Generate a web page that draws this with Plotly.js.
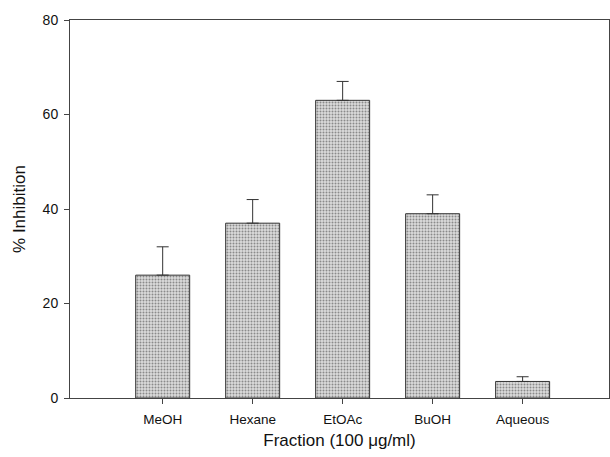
<!DOCTYPE html>
<html>
<head>
<meta charset="utf-8">
<script src="https://cdn.plot.ly/plotly-3.0.1.min.js"></script>
<style>html,body{margin:0;padding:0;background:#fff;}#chart{width:610px;height:457px;}</style>
</head>
<body>
<div id="chart"></div>
<script>
const categories = ["MeOH", "Hexane", "EtOAc", "BuOH", "Aqueous"];
const inhibition = [26, 37, 63, 39, 3.5];
const errorUp = [6, 5, 4, 4, 1];
const yTicks = [0, 20, 40, 60, 80];

const trace = {
  type: 'bar',
  x: categories.map((c, i) => i),
  y: inhibition,
  width: 0.6,
  marker: {
    color: '#d4d4d4',
    line: {color: '#333', width: 1},
    pattern: {shape: '.', fgcolor: '#8a8a8a', bgcolor: '#dcdcdc', size: 3, solidity: 0.35}
  },
  error_y: {type: 'data', array: errorUp, arrayminus: errorUp.map(() => 0), symmetric: false, color: '#333', thickness: 1, width: 6},
  hoverinfo: 'none'
};

const layout = {
  width: 610, height: 457,
  margin: {l: 70, r: 1, t: 20, b: 59},
  paper_bgcolor: '#fff', plot_bgcolor: '#fff',
  showlegend: false,
  font: {family: 'Liberation Sans, Arial, sans-serif', color: '#111'},
  xaxis: {
    range: [-1.03, 4.96],
    tickmode: 'array', tickvals: categories.map((c, i) => i), ticktext: categories,
    ticks: 'outside', ticklen: 5, tickcolor: '#444',
    showline: true, linecolor: '#444', linewidth: 1, mirror: true,
    showgrid: false, zeroline: false,
    tickfont: {size: 13.5},
    ticklabelstandoff: 4,
    title: {text: 'Fraction (100 μg/ml)', font: {size: 17}, standoff: 7}
  },
  yaxis: {
    range: [0, 80],
    tickmode: 'array', tickvals: yTicks, ticktext: yTicks.map(String),
    ticks: 'outside', ticklen: 5, tickcolor: '#444',
    showline: true, linecolor: '#444', linewidth: 1, mirror: true,
    showgrid: false, zeroline: false,
    tickfont: {size: 14},
    ticklabelstandoff: 3,
    title: {text: '% Inhibition', font: {size: 17}, standoff: 12}
  }
};

Plotly.newPlot('chart', [trace], layout, {displayModeBar: false, staticPlot: true});
</script>
</body>
</html>
